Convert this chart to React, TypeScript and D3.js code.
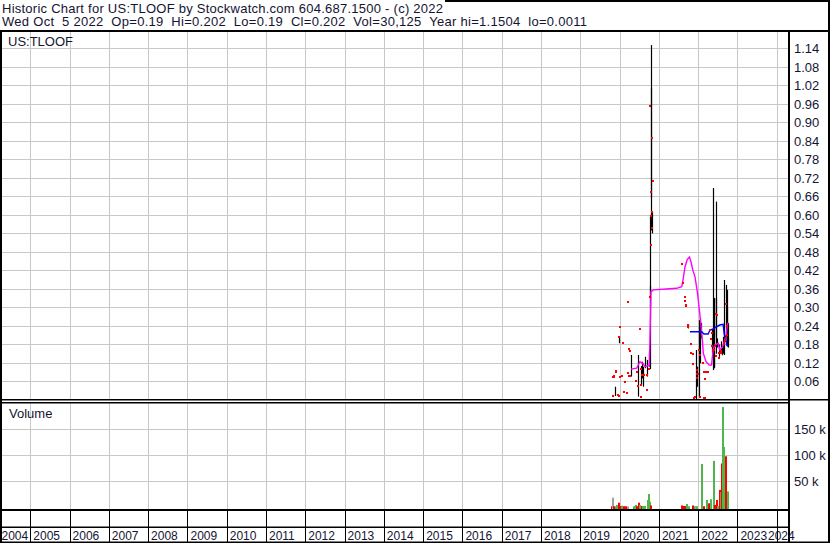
import * as d3 from "d3";
import { useEffect, useRef } from "react";

// header / labels
const headerLine1 = "Historic Chart for US:TLOOF by Stockwatch.com 604.687.1500 - (c) 2022";
const headerLine2 =
  "Wed Oct  5 2022  Op=0.19  Hi=0.202  Lo=0.19  Cl=0.202  Vol=30,125  Year hi=1.1504  lo=0.0011";
const symbolLabel = "US:TLOOF";
const volumeLabel = "Volume";

const yearLabels = [
  "2004", "2005", "2006", "2007", "2008", "2009", "2010", "2011", "2012", "2013", "2014",
  "2015", "2016", "2017", "2018", "2019", "2020", "2021", "2022", "2023", "2024",
];
const priceTicks = [
  0.06, 0.12, 0.18, 0.24, 0.3, 0.36, 0.42, 0.48, 0.54, 0.6, 0.66, 0.72, 0.78, 0.84, 0.9, 0.96,
  1.02, 1.08, 1.14,
];
const volumeTicks = [50000, 100000, 150000];
const volumeTickLabels = ["50 k", "100 k", "150 k"];

// daily high/low bars
const barDates = [
  "2019-11-24", "2019-12-30", "2020-04-13", "2020-06-17", "2020-07-18", "2020-07-30", "2020-08-03",
  "2020-08-25", "2020-09-10", "2020-10-04", "2020-10-08", "2020-10-11", "2020-10-15", "2020-10-21",
  "2020-10-24", "2020-10-27", "2021-09-26", "2021-12-12", "2021-12-24", "2022-01-12", "2022-01-15",
  "2022-01-27", "2022-05-05", "2022-05-20", "2022-05-24", "2022-05-29", "2022-06-12", "2022-06-15",
  "2022-06-29", "2022-07-15", "2022-08-01", "2022-08-07", "2022-08-16", "2022-09-01", "2022-09-13",
  "2022-09-23", "2022-09-28", "2022-10-03", "2022-10-05",
];
const barHigh = [
  0.043, 0.207, 0.146, 0.146, 0.11, 0.124, 0.108, 0.14, 0.13, 0.157, 0.37, 0.6, 1.01, 1.1504,
  0.713, 0.61, 0.246, 0.162, 0.108, 0.259, 0.265, 0.25, 0.227, 0.687, 0.33, 0.331, 0.643, 0.33,
  0.2, 0.18, 0.19, 0.17, 0.205, 0.389, 0.373, 0.357, 0.298, 0.25, 0.202,
];
const barLow = [
  0.013, 0.184, 0.076, 0.011, 0.049, 0.07, 0.043, 0.103, 0.076, 0.108, 0.1, 0.3, 0.713, 0.55,
  0.654, 0.54, 0.232, 0.003, 0.043, 0.011, 0.119, 0.2, 0.152, 0.097, 0.103, 0.108, 0.205, 0.15,
  0.17, 0.14, 0.16, 0.145, 0.15, 0.146, 0.205, 0.18, 0.173, 0.17, 0.19,
];

// red close marks
const dotDates = [
  "2019-10-30", "2019-10-30", "2019-11-08", "2019-11-12", "2019-11-28", "2019-11-30", "2019-12-15",
  "2019-12-30", "2019-12-30", "2020-01-02", "2020-01-02", "2020-01-21", "2020-01-29", "2020-02-13",
  "2020-02-22", "2020-03-08", "2020-03-18", "2020-03-24", "2020-04-01", "2020-04-01", "2020-04-07",
  "2020-04-07", "2020-06-02", "2020-06-09", "2020-06-24", "2020-07-09", "2020-07-15", "2020-07-18",
  "2020-07-23", "2020-07-26", "2020-08-18", "2020-09-10", "2020-09-10", "2020-09-14", "2020-10-02",
  "2020-10-08", "2020-10-12", "2020-10-17", "2020-10-17", "2020-10-23", "2020-10-28", "2020-10-28",
  "2020-11-01", "2020-11-05",
  "2021-08-01", "2021-08-10", "2021-09-05", "2021-09-05", "2021-09-10", "2021-09-10", "2021-09-24",
  "2021-09-24", "2021-10-23", "2021-10-30", "2021-10-30", "2021-11-11", "2021-11-11", "2021-11-17",
  "2021-11-23", "2021-11-25", "2021-12-02", "2021-12-21", "2021-12-21", "2021-12-24", "2021-12-30",
  "2022-01-12", "2022-01-18", "2022-01-18", "2022-02-15", "2022-02-24", "2022-02-24", "2022-03-05",
  "2022-03-05", "2022-03-14", "2022-03-29", "2022-04-20", "2022-04-29", "2022-05-05", "2022-05-11",
  "2022-05-20", "2022-05-26", "2022-06-04", "2022-06-14", "2022-06-18", "2022-06-29", "2022-07-11",
  "2022-07-11", "2022-08-05", "2022-08-05", "2022-08-26", "2022-09-04", "2022-09-17", "2022-09-17",
  "2022-09-23", "2022-09-30",
];
const dotValues = [
  0.014, 0.074, 0.077, 0.074, 0.092, 0.095, 0.016, 0.014, 0.205, 0.076, 0.238, 0.078, 0.186,
  0.027, 0.057, 0.022, 0.089, 0.318, 0.078, 0.164, 0.159, 0.077, 0.063, 0.092, 0.045, 0.23,
  0.099, 0.049, 0.011, 0.08, 0.08, 0.08, 0.032, 0.031, 0.099, 0.335, 0.953, 0.675, 0.502, 0.597,
  0.85, 0.61, 0.558, 0.711,
  0.44, 0.379, 0.335, 0.322, 0.305, 0.308, 0.243, 0.238, 0.18, 0.151, 0.182, 0.148, 0.116, 0.116,
  0.007, 0.0011, 0.01, 0.097, 0.084, 0.07, 0.084, 0.162, 0.146, 0.01, 0.12, 0.09, 0.007, 0.068,
  0.007, 0.09, 0.09, 0.227, 0.198, 0.218, 0.175, 0.162, 0.162, 0.175, 0.279, 0.144, 0.276, 0.152,
  0.136, 0.16, 0.152, 0.18, 0.19, 0.2, 0.31, 0.24, 0.21,
];

// magenta long average
const longAvgDates = [
  "2020-04-16", "2020-06-08", "2020-07-08", "2020-08-03", "2020-08-25", "2020-10-04", "2020-10-10",
  "2020-10-19", "2020-11-10", "2021-03-13", "2021-06-15", "2021-08-01", "2021-08-10", "2021-09-01",
  "2021-09-22", "2021-10-12", "2021-10-26", "2021-11-13", "2021-12-02", "2021-12-24", "2022-01-09",
  "2022-01-25", "2022-02-09", "2022-02-18", "2022-03-15", "2022-04-14", "2022-05-05", "2022-05-20",
  "2022-06-04", "2022-07-06", "2022-07-21", "2022-08-16", "2022-09-15", "2022-09-29", "2022-10-05",
];
const longAvgValues = [
  0.1, 0.103, 0.124, 0.119, 0.108, 0.113, 0.2, 0.351, 0.357, 0.36, 0.362, 0.367, 0.383, 0.432,
  0.456, 0.463, 0.448, 0.42, 0.4, 0.351, 0.302, 0.249, 0.194, 0.151, 0.124, 0.113, 0.113, 0.162,
  0.178, 0.184, 0.162, 0.173, 0.205, 0.24, 0.25,
];

// blue short average
const shortAvgDates = [
  "2021-10-16", "2022-02-03", "2022-02-24", "2022-04-04", "2022-04-20", "2022-05-20", "2022-06-14",
  "2022-07-21", "2022-08-21", "2022-09-01", "2022-09-13", "2022-09-23", "2022-10-05",
];
const shortAvgValues = [
  0.221, 0.221, 0.214, 0.214, 0.227, 0.23, 0.236, 0.243, 0.245, 0.211, 0.205, 0.178, 0.175,
];

// volume
const volDates = [
  "2019-10-24", "2019-10-31", "2019-11-10", "2019-11-27", "2019-12-12", "2019-12-25", "2020-01-07",
  "2020-01-24", "2020-02-10", "2020-02-27", "2020-03-16", "2020-05-15", "2020-05-31", "2020-06-07",
  "2020-07-03", "2020-07-13", "2020-07-26", "2020-08-08", "2020-08-26", "2020-09-19", "2020-10-03",
  "2020-10-11", "2020-10-23", "2021-07-31", "2021-08-16", "2021-08-30", "2021-09-15", "2021-10-05",
  "2021-11-13", "2021-11-29", "2021-12-11", "2021-12-25", "2022-02-03", "2022-02-24", "2022-03-28",
  "2022-04-14", "2022-04-23", "2022-05-02", "2022-05-25", "2022-06-09", "2022-06-24", "2022-07-07",
  "2022-07-26", "2022-07-30", "2022-08-14", "2022-08-20", "2022-08-30", "2022-09-08", "2022-09-15",
  "2022-10-05",
];
const volValues = [
  1500, 18000, 1500, 1500, 4000, 8300, 2000, 2500, 1500, 1500, 1000, 1500, 4000, 1500, 8300, 4000,
  2000, 2000, 2000, 13500, 25000, 10000, 3000, 3000, 2000, 2000, 5800, 1500, 3000, 1500, 1000,
  1500, 83000, 1500, 13500, 7000, 7000, 15000, 89000, 4000, 13500, 2000, 33000, 29000, 84000,
  193000, 116000, 87000, 98000, 30125,
];
const volDirection = [
  "dn", "flat", "dn", "up", "up", "dn", "dn", "up", "dn", "dn", "flat", "up", "up", "dn", "dn", "up",
  "dn", "up", "up", "up", "up", "up", "dn", "dn", "dn", "dn", "up", "up", "dn", "up", "flat", "up",
  "up", "dn", "up", "dn", "dn", "up", "up", "dn", "dn", "up", "dn", "up", "dn", "up", "up", "up",
  "dn", "up",
];

const volColor: Record<string, string> = { up: "#4cb84c", dn: "#ff0000", flat: "#a0a0a0" };
const textColor = "#141432";
const gridColor = "#c8c8c8";
const font = "'Liberation Sans', Arial, sans-serif";

function StockChart() {
  const ref = useRef(null);
  const width = 830;
  const height = 543;
  const plotRight = 789;
  const priceTop = 31;
  const priceBottom = 400;
  const volTop = 403;
  const volBottom = 510;

  useEffect(() => {
    const parse = d3.timeParse("%Y-%m-%d");
    const x = d3
      .scaleTime()
      .domain([new Date(2005, 0, 1), new Date(2024, 0, 1)])
      .range([30.3, 776.7]);
    const yPrice = d3.scaleLinear().domain([0, 1.14]).range([400, 48.3]);
    const yVol = d3.scaleLinear().domain([0, 150000]).range([507, 429.3]);
    const px = (s: string) => Math.round(x(parse(s)!)) + 0.5;

    const svg = d3.select(ref.current).attr("width", width).attr("height", height);
    svg.selectAll("*").remove();

    svg.append("rect").attr("width", width).attr("height", height).attr("fill", "white");

    const yearBounds = yearLabels.slice(1).map((y) => Math.round(x(new Date(+y, 0, 1))) + 0.5);

    // grid
    const grid = svg.append("g").attr("stroke", gridColor).attr("stroke-width", 1);
    yearBounds.forEach((bx) => {
      grid.append("line").attr("x1", bx).attr("x2", bx).attr("y1", priceTop).attr("y2", priceBottom);
      grid.append("line").attr("x1", bx).attr("x2", bx).attr("y1", volTop).attr("y2", volBottom);
    });
    priceTicks.forEach((t) => {
      const gy = Math.round(yPrice(t)) + 0.5;
      grid.append("line").attr("x1", 0).attr("x2", plotRight).attr("y1", gy).attr("y2", gy);
    });
    volumeTicks.forEach((t) => {
      const gy = Math.round(yVol(t)) + 0.5;
      grid.append("line").attr("x1", 0).attr("x2", plotRight).attr("y1", gy).attr("y2", gy);
    });

    // price marks
    svg
      .append("clipPath")
      .attr("id", "priceClip")
      .append("rect")
      .attr("x", 0)
      .attr("y", priceTop)
      .attr("width", plotRight)
      .attr("height", priceBottom - priceTop);
    const pg = svg.append("g").attr("clip-path", "url(#priceClip)");

    pg.selectAll("line.bar")
      .data(barDates)
      .join("line")
      .attr("class", "bar")
      .attr("x1", (d) => px(d))
      .attr("x2", (d) => px(d))
      .attr("y1", (_, i) => yPrice(barHigh[i]))
      .attr("y2", (_, i) => yPrice(barLow[i]))
      .attr("stroke", "black")
      .attr("stroke-width", 1.2);

    const longLine = d3
      .line<string>()
      .x((d) => x(parse(d)!))
      .y((_, i) => yPrice(longAvgValues[i]));
    pg.append("path")
      .attr("d", longLine(longAvgDates))
      .attr("fill", "none")
      .attr("stroke", "#ff00ff")
      .attr("stroke-width", 1.4);

    const shortLine = d3
      .line<string>()
      .x((d) => x(parse(d)!))
      .y((_, i) => yPrice(shortAvgValues[i]));
    pg.append("path")
      .attr("d", shortLine(shortAvgDates))
      .attr("fill", "none")
      .attr("stroke", "#0000ff")
      .attr("stroke-width", 1.4);

    pg.selectAll("rect.dot")
      .data(dotDates)
      .join("rect")
      .attr("class", "dot")
      .attr("x", (d) => px(d) - 1.5)
      .attr("y", (_, i) => Math.round(yPrice(dotValues[i])) - 1)
      .attr("width", 2)
      .attr("height", 2)
      .attr("fill", "#ff0000");

    // volume bars
    svg
      .append("g")
      .selectAll("rect")
      .data(volDates)
      .join("rect")
      .attr("x", (d) => px(d) - 1.5)
      .attr("width", 2)
      .attr("y", (_, i) => yVol(volValues[i]))
      .attr("height", (_, i) => volBottom - 1 - yVol(volValues[i]))
      .attr("fill", (_, i) => volColor[volDirection[i]]);

    // frame lines
    const frame = svg.append("g").attr("fill", "black");
    const box = (x0: number, y0: number, w: number, h: number) =>
      frame.append("rect").attr("x", x0).attr("y", y0).attr("width", w).attr("height", h);
    box(445, 0, width - 445, 2);
    box(0, 30, width, 2);
    box(0, 399, width, 1.5);
    box(0, 402, plotRight, 1.5);
    box(0, 509, plotRight, 2);
    box(0, 526.5, plotRight, 1.5);
    box(0, 541.5, width, 1.5);
    box(0, 30, 2, height - 30);
    box(788, 30, 2, height - 30);
    box(828, 0, 2, height);

    // year separators in the label rows
    yearBounds.forEach((bx) => {
      svg
        .append("line")
        .attr("x1", bx)
        .attr("x2", bx)
        .attr("y1", volBottom)
        .attr("y2", 542)
        .attr("stroke", "black");
    });

    const text = (t: string, tx: number, ty: number, size: number, len?: number) => {
      const el = svg
        .append("text")
        .attr("x", tx)
        .attr("y", ty)
        .attr("fill", textColor)
        .attr("font-family", font)
        .attr("font-size", size)
        .style("white-space", "pre")
        .text(t);
      if (len) el.attr("textLength", len).attr("lengthAdjust", "spacing");
      return el;
    };

    // header
    text(headerLine1, 2, 12.5, 13, 441);
    text(headerLine2, 2, 26, 13, 585);
    text(symbolLabel, 8, 45.5, 13);
    text(volumeLabel, 9, 418, 13);

    priceTicks.forEach((t) => text(t.toFixed(2), 794, yPrice(t) + 4.7, 13));
    volumeTicks.forEach((t, i) => text(volumeTickLabels[i], 794, yVol(t) + 4.7, 13));

    yearLabels.forEach((y) => {
      const bx = x(new Date(+y, 0, 1));
      text(y, Math.min(Math.max(1.5, bx + 3), 768), 539.5, 12);
    });
  });

  return <svg ref={ref} style={{ position: "absolute", left: 0, top: 0 }} />;
}

export default function App() {
  return <StockChart />;
}
